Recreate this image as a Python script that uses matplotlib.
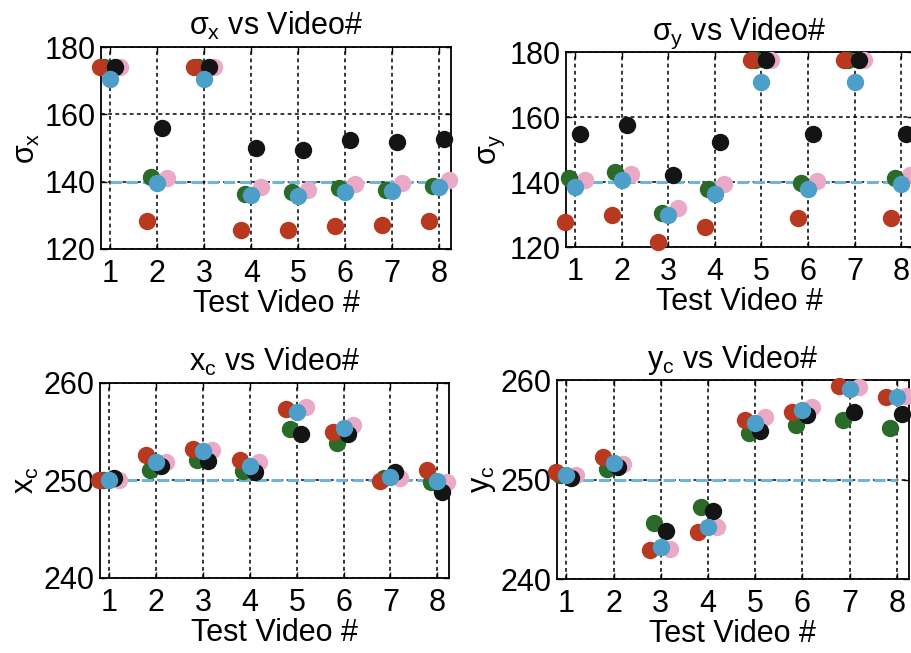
import numpy as np
import matplotlib
matplotlib.use('Agg')
import matplotlib.pyplot as plt

plt.rcParams['font.family'] = ['Liberation Sans', 'DejaVu Sans']
plt.rcParams['mathtext.fontset'] = 'custom'
plt.rcParams['mathtext.rm'] = 'Liberation Sans'
plt.rcParams['mathtext.it'] = 'Liberation Sans'

videos = np.arange(1, 9)

# sigma_x estimates per video
sigx_red   = [174.2, 128.4, 174.2, 125.7, 125.5, 126.7, 127.2, 128.2]
sigx_green = [174.2, 141.5, 174.2, 136.4, 137.0, 138.0, 137.6, 138.8]
sigx_blue  = [170.4, 139.7, 170.4, 136.0, 135.6, 137.0, 137.1, 138.3]
sigx_black = [174.2, 155.9, 174.2, 149.9, 149.4, 152.4, 151.9, 152.7]
sigx_pink  = [174.0, 141.0, 174.0, 138.5, 137.6, 139.3, 139.5, 140.5]

# sigma_y estimates per video
sigy_red   = [127.8, 129.8, 121.6, 126.2, 177.4, 128.8, 177.4, 129.0]
sigy_green = [141.1, 143.0, 130.4, 138.0, 177.4, 139.6, 177.4, 141.1]
sigy_blue  = [138.5, 140.6, 129.8, 136.4, 170.7, 138.0, 170.7, 139.3]
sigy_black = [154.9, 157.5, 142.3, 152.4, 177.4, 154.7, 177.4, 154.9]
sigy_pink  = [140.5, 142.6, 132.0, 139.5, 177.4, 140.3, 177.4, 142.2]

# x centre estimates per video
xc_red   = [250.1, 252.6, 253.2, 252.1, 257.3, 255.0, 249.9, 251.1]
xc_green = [250.0, 251.1, 252.1, 251.0, 255.3, 253.8, 250.3, 249.8]
xc_blue  = [250.0, 251.9, 253.0, 251.5, 257.0, 255.4, 250.4, 249.9]
xc_black = [250.3, 251.5, 252.0, 250.9, 254.8, 254.8, 250.9, 248.8]
xc_pink  = [250.0, 251.9, 253.1, 251.9, 257.5, 255.7, 250.3, 249.8]

# y centre estimates per video
yc_red   = [250.8, 252.3, 242.9, 244.7, 256.0, 256.8, 259.4, 258.3]
yc_green = [250.5, 251.1, 245.6, 247.2, 254.7, 255.5, 256.0, 255.2]
yc_blue  = [250.5, 251.7, 243.2, 245.2, 255.7, 257.0, 259.1, 258.3]
yc_black = [250.2, 251.3, 244.8, 246.8, 254.9, 256.5, 256.8, 256.6]
yc_pink  = [250.5, 251.6, 243.0, 245.2, 256.3, 257.3, 259.3, 258.4]

# true values
sigx_true = 140
sigy_true = 140
xc_true = 250
yc_true = 250

c_red = '#b8391f'
c_green = '#2a6b2a'
c_blue = '#4d9ec9'
c_black = '#141414'
c_pink = '#eaa9c6'


def panel(ax, red, green, blue, black, pink, truth, yticks, title, ylab):
    # draw order: pink at the back, blue on top
    series = [(pink, 0.20, c_pink), (green, -0.14, c_green), (red, -0.22, c_red),
              (black, 0.10, c_black), (blue, 0.0, c_blue)]
    ax.plot(videos, [truth] * len(videos), '--', color='#6cb6dc', lw=2.2, zorder=2)
    for vals, dx, col in series:
        ax.plot(videos + dx, vals, 'o', ms=11.5, color=col, mec=col, zorder=3,
                clip_on=False)
    ax.set_xlim(0.8, 8.25)
    ax.set_ylim(yticks[0], yticks[-1])
    ax.set_xticks(videos)
    ax.set_yticks(yticks)
    ax.grid(True, color='k', linestyle=(0, (2.5, 2.2)), lw=1.1)
    ax.set_axisbelow(True)
    ax.tick_params(direction='in', length=4, width=1, top=True, right=True,
                   labelsize=22)
    ax.tick_params(axis='x', pad=7)
    ax.tick_params(axis='y', pad=4)
    for s in ax.spines.values():
        s.set_linewidth(1.3)
    ax.set_title(title, fontsize=22, pad=9)
    ax.set_xlabel('Test Video #', fontsize=22, labelpad=0)
    ax.set_ylabel(ylab, fontsize=22, labelpad=2)


fig = plt.figure(figsize=(9.11, 6.53), dpi=100)
ax1 = fig.add_axes([0.1109, 0.6187, 0.3842, 0.3093])
ax2 = fig.add_axes([0.6213, 0.6217, 0.3806, 0.2986])
ax3 = fig.add_axes([0.1098, 0.1149, 0.3831, 0.2986])
ax4 = fig.add_axes([0.6114, 0.1133, 0.3860, 0.3047])

panel(ax1, sigx_red, sigx_green, sigx_blue, sigx_black, sigx_pink, sigx_true,
      [120, 140, 160, 180], r'$\sigma_{\rm x}$ vs Video#', r'$\sigma_{\rm x}$')
panel(ax2, sigy_red, sigy_green, sigy_blue, sigy_black, sigy_pink, sigy_true,
      [120, 140, 160, 180], r'$\sigma_{\rm y}$ vs Video#', r'$\sigma_{\rm y}$')
panel(ax3, xc_red, xc_green, xc_blue, xc_black, xc_pink, xc_true,
      [240, 250, 260], r'x$_{\rm c}$ vs Video#', r'x$_{\rm c}$')
panel(ax4, yc_red, yc_green, yc_blue, yc_black, yc_pink, yc_true,
      [240, 250, 260], r'y$_{\rm c}$ vs Video#', r'y$_{\rm c}$')

fig.savefig('out.png', dpi=100)
